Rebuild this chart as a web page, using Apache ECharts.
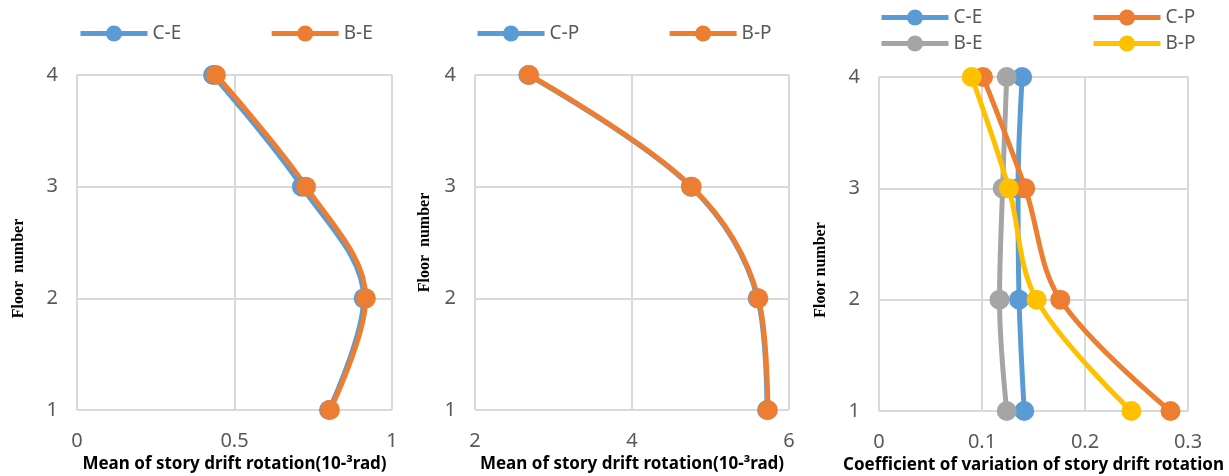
<!DOCTYPE html>
<html>
<head>
<meta charset="utf-8">
<script src="https://cdn.jsdelivr.net/npm/echarts@6/dist/echarts.min.js"></script>
<style>
  html, body { margin: 0; padding: 0; background: #fff; }
  #chart { width: 1229px; height: 476px; }
</style>
</head>
<body>
<div id="chart"></div>
<script>
var floors = [1, 2, 3, 4];

// left panel: mean drift, elastic
var meanCE = [0.80, 0.91, 0.714, 0.432];
var meanBE = [0.803, 0.917, 0.727, 0.441];
// middle panel: mean drift, plastic
var meanCP = [5.72, 5.60, 4.75, 2.68];
var meanBP = [5.73, 5.61, 4.76, 2.69];
// right panel: coefficient of variation
var covCE = [0.141, 0.136, 0.135, 0.139];
var covBE = [0.124, 0.117, 0.120, 0.124];
var covCP = [0.283, 0.176, 0.142, 0.101];
var covBP = [0.245, 0.153, 0.126, 0.090];

var xNameMean = 'Mean of story drift rotation(10-\u00b3rad)';
var xNameCov = 'Coefficient of variation of story drift rotation';

var BLUE = '#5B9BD5', ORANGE = '#ED7D31', GRAY = '#A5A5A5', YELLOW = '#FFC000';
var tickColor = '#595959';
var gridColor = '#d9d9d9';

function pairs(xs) {
    return xs.map(function (v, i) { return [v, floors[i]]; });
}

function line(name, idx, xs, color) {
    return {
        type: 'line',
        name: name,
        xAxisIndex: idx,
        yAxisIndex: idx,
        data: pairs(xs),
        smooth: 0.35,
        symbol: 'circle',
        symbolSize: 20,
        lineStyle: { color: color, width: 5 },
        itemStyle: { color: color },
        emphasis: { disabled: true },
        animation: false
    };
}

function xAxis(idx, min, max, interval, name) {
    return {
        type: 'value', gridIndex: idx, min: min, max: max, interval: interval,
        name: name, nameLocation: 'middle', nameGap: 44,
        nameTextStyle: { fontFamily: 'Noto Sans', fontWeight: 'bold', fontSize: 17, color: '#000' },
        axisLine: { show: false }, axisTick: { show: false },
        axisLabel: { fontFamily: 'Noto Sans', fontSize: 20, color: tickColor, margin: 21 },
        splitLine: { lineStyle: { color: gridColor, width: 2 } }
    };
}

function yAxis(idx, name, gap, shift) {
    return {
        type: 'value', gridIndex: idx, min: 1, max: 4, interval: 1,
        name: name, nameLocation: 'middle', nameGap: gap,
        nameTextStyle: { fontFamily: 'Liberation Serif', fontWeight: 'bold', fontSize: 16, color: '#000',
                         padding: [0, shift, 0, 0] },
        axisLine: { show: false }, axisTick: { show: false },
        axisLabel: { fontFamily: 'Noto Sans', fontSize: 20, color: tickColor, margin: 19 },
        splitLine: { lineStyle: { color: gridColor, width: 2 } }
    };
}

function legend(data, left, top, gap, orient) {
    return {
        data: data, left: left, top: top, orient: orient || 'horizontal',
        padding: 0,
        itemGap: gap, itemWidth: 67, itemHeight: 20,
        selectedMode: false,
        lineStyle: { width: 5 },
        formatter: function (n) { return n.trim(); },
        textStyle: { fontFamily: 'Noto Sans', fontSize: 19, color: tickColor }
    };
}

var chart = echarts.init(document.getElementById('chart'));
chart.setOption({
    backgroundColor: '#fff',
    animation: false,
    grid: [
        { left: 77, top: 75, width: 315, height: 335, outerBoundsMode: 'none', containLabel: false },
        { left: 475, top: 75, width: 314, height: 335, outerBoundsMode: 'none', containLabel: false },
        { left: 879, top: 77, width: 309, height: 334, outerBoundsMode: 'none', containLabel: false }
    ],
    xAxis: [
        xAxis(0, 0, 1, 0.5, xNameMean),
        xAxis(1, 2, 6, 2, xNameMean),
        xAxis(2, 0, 0.3, 0.1, xNameCov)
    ],
    yAxis: [
        yAxis(0, 'Floor  number', 50, 52),
        yAxis(1, 'Floor  number', 42, 0),
        yAxis(2, 'Floor number', 50, 52)
    ],
    legend: [
        legend(['C-E', 'B-E'], 78, 24, 88),
        legend(['C-P', 'B-P'], 475, 24, 88),
        legend(['C-E ', 'B-E '], 879, 8, 7, 'vertical'),
        legend(['C-P ', 'B-P '], 1091, 8, 7, 'vertical')
    ],
    series: [
        line('C-E', 0, meanCE, BLUE),
        line('B-E', 0, meanBE, ORANGE),
        line('C-P', 1, meanCP, BLUE),
        line('B-P', 1, meanBP, ORANGE),
        line('C-E ', 2, covCE, BLUE),
        line('B-E ', 2, covBE, GRAY),
        line('C-P ', 2, covCP, ORANGE),
        line('B-P ', 2, covBP, YELLOW)
    ]
});
</script>
</body>
</html>
